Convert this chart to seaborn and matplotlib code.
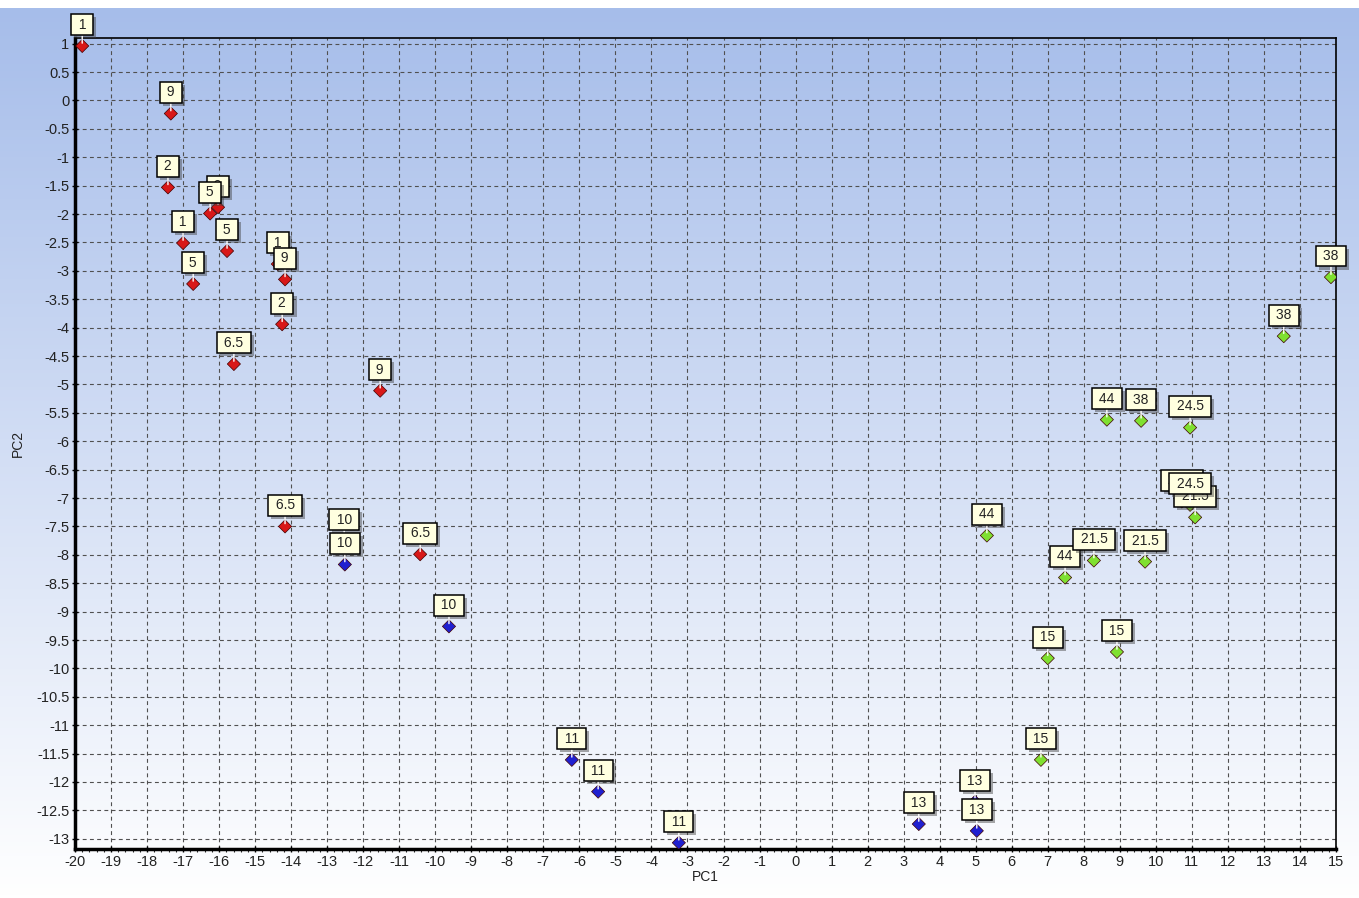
import numpy as np
import pandas as pd
import matplotlib.pyplot as plt
import seaborn as sns
from matplotlib.ticker import MultipleLocator

sns.set_theme(style="white")
plt.rcParams['font.family'] = ['Liberation Sans', 'DejaVu Sans']

# Datos (PC1, PC2, etiqueta)
red_pc1 = [-19.8, -17.34, -17.42, -16.03, -16.25, -17.0, -15.78, -16.72, -14.37, -14.17, -14.25, -15.59, -11.53, -14.17, -10.42]
red_pc2 = [0.96, -0.23, -1.53, -1.88, -1.99, -2.51, -2.65, -3.23, -2.88, -3.15, -3.94, -4.64, -5.11, -7.50, -7.99]
red_lab = ["1", "9", "2", "9", "5", "1", "5", "5", "1", "9", "2", "6.5", "9", "6.5", "6.5"]

blue_pc1 = [-12.53, -12.51, -9.62, -6.21, -5.48, -3.24, 3.42, 4.98, 5.03]
blue_pc2 = [-7.75, -8.17, -9.26, -11.61, -12.17, -13.07, -12.74, -12.35, -12.86]
blue_lab = ["10", "10", "10", "11", "11", "11", "13", "13", "13"]

green_pc1 = [14.86, 13.55, 8.64, 9.59, 10.95, 10.72, 11.09, 10.95, 5.31, 7.48, 8.28, 9.70, 7.0, 8.92, 6.81]
green_pc2 = [-3.11, -4.15, -5.62, -5.64, -5.76, -7.06, -7.34, -7.12, -7.66, -8.40, -8.10, -8.12, -9.82, -9.71, -11.61]
green_lab = ["38", "38", "44", "38", "24.5", "24.5", "21.5", "24.5", "44", "44", "21.5", "21.5", "15", "15", "15"]

df = pd.DataFrame({
    'PC1': red_pc1 + blue_pc1 + green_pc1,
    'PC2': red_pc2 + blue_pc2 + green_pc2,
    'label': red_lab + blue_lab + green_lab,
    'grupo': ['r'] * len(red_pc1) + ['b'] * len(blue_pc1) + ['g'] * len(green_pc1),
})
colores = {'r': '#D81818', 'b': '#2020D0', 'g': '#7FE030'}

fig = plt.figure(figsize=(13.59, 8.98), dpi=100)

# fondo degradado
bg = fig.add_axes([0, 0, 1, 1 - 8 / 898])
grad = np.linspace(0, 1, 256).reshape(-1, 1)
top = np.array([166, 189, 234]) / 255
bot = np.array([255, 255, 255]) / 255
img = top[None, None, :] * (1 - grad[..., None]) + bot[None, None, :] * grad[..., None]
bg.imshow(img, aspect='auto', extent=[0, 1, 0, 1], origin='upper')
bg.axis('off')

ax = fig.add_axes([75 / 1359, 49 / 898, 1261 / 1359, 811 / 898])
ax.set_facecolor('none')

sns.scatterplot(data=df, x='PC1', y='PC2', hue='grupo', palette=colores, marker='D',
                s=45, edgecolor='#400000', linewidth=0.5, legend=False, ax=ax, zorder=5)

for i, row in df.iterrows():
    txt = f" {row['label']} "
    z = 6 + i * 0.01
    # sombra
    ax.annotate(txt, (row['PC1'], row['PC2']), xytext=(2.2, 13.0), textcoords='offset points',
                ha='center', va='center', fontsize=10, color='none', zorder=z,
                bbox=dict(boxstyle='square,pad=0.25', fc='#404040', ec='none', alpha=0.45))
    ax.annotate(txt, (row['PC1'], row['PC2']), xytext=(0, 15.2), textcoords='offset points',
                ha='center', va='center', fontsize=10, color='#222222', zorder=z + 0.005,
                bbox=dict(boxstyle='square,pad=0.25', fc='#FFFFE0', ec='black', lw=1.1),
                arrowprops=dict(arrowstyle='-', color='white', lw=1.0, shrinkA=0, shrinkB=2))

ax.set_xlim(-20, 15)
ax.set_ylim(-13.18, 1.1)
ax.xaxis.set_major_locator(MultipleLocator(1))
ax.xaxis.set_minor_locator(MultipleLocator(0.2))
ax.yaxis.set_major_locator(MultipleLocator(0.5))
ax.grid(True, which='major', color='#505050', linestyle=(0, (3.5, 3)), linewidth=0.8)
ax.tick_params(axis='both', which='major', labelsize=10.5, length=4, width=1, direction='inout',
               colors='black', labelcolor='#222222', pad=2)
ax.tick_params(axis='x', which='minor', length=2.5, width=0.8, direction='out', bottom=True)
ax.tick_params(left=True, bottom=True)
ax.set_xticklabels([f"{int(v)}" for v in ax.get_xticks()])
ax.set_yticklabels([f"{v:g}" for v in ax.get_yticks()])

for s in ['left', 'bottom']:
    ax.spines[s].set_linewidth(2.5)
    ax.spines[s].set_color('black')
for s in ['top', 'right']:
    ax.spines[s].set_linewidth(1.2)
    ax.spines[s].set_color('black')

ax.set_xlabel("PC1", fontsize=10, labelpad=1, color='#222222')
ax.set_ylabel("PC2", fontsize=10, labelpad=8, color='#222222')

plt.savefig('out.png', dpi=100)
